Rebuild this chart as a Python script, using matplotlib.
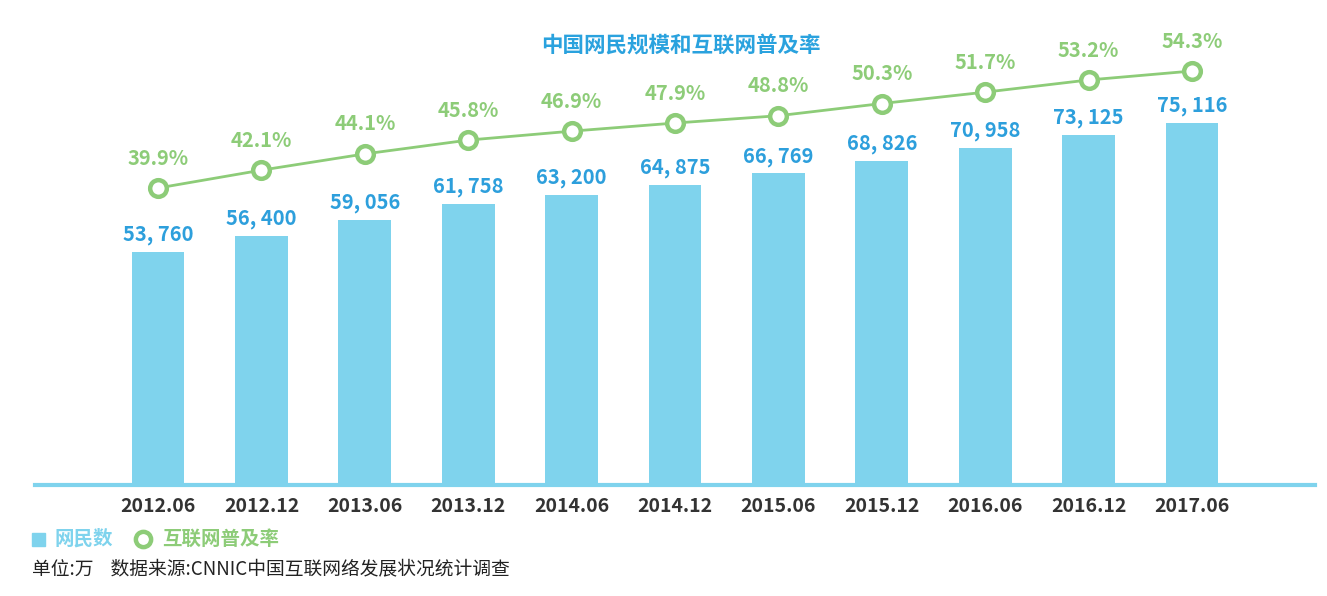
import matplotlib
matplotlib.use("Agg")
import matplotlib.pyplot as plt
from matplotlib.lines import Line2D
from matplotlib.patches import Rectangle

plt.rcParams['font.family'] = ['Noto Sans CJK SC', 'DejaVu Sans']

periods = ['2012.06', '2012.12', '2013.06', '2013.12', '2014.06', '2014.12',
           '2015.06', '2015.12', '2016.06', '2016.12', '2017.06']
netizens = [53760, 56400, 59056, 61758, 63200, 64875, 66769, 68826, 70958, 73125, 75116]
penetration = [39.9, 42.1, 44.1, 45.8, 46.9, 47.9, 48.8, 50.3, 51.7, 53.2, 54.3]

BAR_COLOR = '#7fd3ed'
LINE_COLOR = '#8dcc78'
TITLE_COLOR = '#2aa2de'
VALUE_COLOR = '#2d9fdc'

W, H = 1327, 596
fig = plt.figure(figsize=(W / 100, H / 100), dpi=100)
ax = fig.add_axes([35 / W, (H - 485) / H, 1280 / W, (485 - 30) / H])

x = list(range(len(periods)))
ax.bar(x, netizens, width=0.51, color=BAR_COLOR, zorder=2)
ax.set_xlim(-1.19, len(periods) - 1 + 1.19)
ax.set_ylim(15185, 90530)
for xi, v in zip(x, netizens):
    ax.annotate(f"{v:,}".replace(",", ", "), (xi, v), xytext=(0, 5),
                textcoords='offset points', ha='center', va='bottom',
                fontsize=14.5, fontweight='bold', color=VALUE_COLOR)

for s in ['top', 'right', 'left']:
    ax.spines[s].set_visible(False)
ax.spines['bottom'].set_color(BAR_COLOR)
ax.spines['bottom'].set_linewidth(3)
ax.set_yticks([])
ax.set_xticks(x)
ax.set_xticklabels(periods, fontsize=14, fontweight='bold', color='#333333')
ax.tick_params(axis='x', length=0, pad=9)

ax2 = ax.twinx()
ax2.set_ylim(3.35, 59.35)
ax2.plot(x, penetration, color=LINE_COLOR, linewidth=2, marker='o',
         markersize=12, markerfacecolor='white', markeredgecolor=LINE_COLOR,
         markeredgewidth=3.2, zorder=3)
for xi, p in zip(x, penetration):
    ax2.annotate(f"{p:.1f}%", (xi, p), xytext=(0, 14), textcoords='offset points',
                 ha='center', va='bottom', fontsize=14.5, fontweight='bold',
                 color=LINE_COLOR)
ax2.axis('off')

fig.text(681 / W, 1 - 45 / H, '中国网民规模和互联网普及率', ha='center', va='center',
         fontsize=15.5, fontweight='bold', color=TITLE_COLOR)

# legend
fig.patches.append(Rectangle((32 / W, 1 - 546 / H), 13 / W, 13 / H,
                             transform=fig.transFigure, color=BAR_COLOR))
fig.text(54 / W, 1 - 539 / H, '网民数', ha='left', va='center', fontsize=14,
         fontweight='bold', color=BAR_COLOR)
fig.add_artist(Line2D([143 / W], [1 - 539 / H], transform=fig.transFigure,
                      marker='o', markersize=11, markerfacecolor='white',
                      markeredgecolor=LINE_COLOR, markeredgewidth=3.2))
fig.text(162 / W, 1 - 539 / H, '互联网普及率', ha='left', va='center', fontsize=14,
         fontweight='bold', color=LINE_COLOR)
fig.text(32 / W, 1 - 569 / H, '单位:万    数据来源:CNNIC中国互联网络发展状况统计调查',
         ha='left', va='center', fontsize=13.5, color='#222222')

fig.savefig('out.png', dpi=100, facecolor='white')
